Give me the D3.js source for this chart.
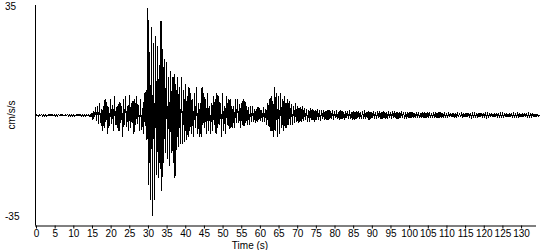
<!DOCTYPE html>
<html>
<head>
<meta charset="utf-8">
<script src="https://cdn.jsdelivr.net/npm/d3@7"></script>
<style>
  body { margin: 0; background: #fff; }
  text { font-family: 'Liberation Sans', Arial, sans-serif; font-size: 10px; fill: #000; }
</style>
</head>
<body>
<div id="chart"></div>
<script>
// sample spacing of the trace (s)
const SAMPLE_DT = 0.25

// acceleration trace, cm/s/s, one row per 5 s
const accel = [
  0.2,-0.2,0.1,-0.3,0.2,-0.1,0.3,-0.2,0.1,-0.2,0.2,-0.3,0.1,-0.1,0.2,-0.2,0.3,-0.1,0.2,-0.2,
  0.1,-0.2,0.2,-0.3,0.2,-0.1,0.2,-0.2,0.3,-0.2,0.1,-0.2,0.2,-0.1,0.3,-0.3,0.2,-0.2,0.1,-0.2,
  0.2,-0.3,0.1,-0.2,0.2,-0.2,0.3,-0.1,0.2,-0.3,0.2,-0.2,0.1,-0.2,0.3,-0.2,0.2,-0.3,0.2,-0.4,
  0.8,-1.5,1.2,-0.6,2.5,-1.8,3,-2.8,4,-2.5,2,-5,3,-4,5,-2,4.2,-6,2.5,-3.5,
  5,-2.8,3.4,-5,6,-3,2.6,-4.2,3.5,-5,4.2,-2.4,2.8,-7,5,-3.2,6,-3.6,3,-5,
  6.5,-4,3.8,-2.6,4.4,-6,5,-3,6,-2.8,3.2,-5,5,-4.6,2.4,-6,7,-3.5,8,-8,
  34,-22,20,-27,28,-32,23,-27,25,-19,22,-20,16,-17,30,-24,21,-15,18,-12,
  17,-14,12,-16,14,-12,12,-15,13,-20,10,-11,12,-10,9,-9,12,-9,8,-8.5,
  10,-8,6,-7,9,-5,7,-6,5,-7,7,-4,9,-6,4,-7,4,-7,9,-3,
  7,-4,5,-6,7,-5,3,-6,4,-5,6,-3,5,-6,7,-4,6,-3,4,-7,
  7,-5,3,-6,6,-3,5,-4.5,5,-4,3,-4,3,-4,5,-2.5,5,-2.5,3.5,-4,
  4,-3,5,-3.5,4.5,-2.5,3,-3,2.5,-3,3,-2,3,-2,2,-2.5,2,-2.2,2.6,-1.6,
  2.2,-1.8,1.8,-2.2,2.6,-2,2,-3,4,-3.5,5,-5,6,-5,4.5,-7,9,-5,7,-7,
  6,-6,7,-4,5,-5,6,-4,4,-4,5,-3,4.5,-3,3.5,-3,3,-2.6,4,-2,
  3,-2.5,2.4,-2,2.5,-2,3,-1.8,2.2,-1.6,2,-2.2,1.8,-2,2.4,-1.5,2,-1.6,1.6,-2,
  1.8,-1.4,2,-1.6,1.5,-1.8,1.6,-1.3,1.7,-1.4,1.4,-1.6,1.5,-1.6,1.8,-1.2,1.4,-1.3,1.5,-1.5,
  1.2,-1.0,1.5,-1.3,1.0,-1.4,1.8,-1.1,1.3,-1.2,1.0,-1.6,1.4,-1.0,1.2,-1.3,1.6,-1.2,1.1,-1.4,
  1.3,-1.5,1.0,-1.2,1.2,-1.0,1.4,-1.3,1.0,-1.2,1.3,-1.1,1.5,-1.3,1.1,-1.0,1.2,-1.4,1.0,-1.2,
  1.1,-1.0,1.3,-1.2,1.0,-1.3,1.2,-0.9,1.4,-1.1,1.0,-1.2,1.2,-1.0,0.9,-1.3,1.1,-1.2,1.3,-1.0,
  1.0,-1.1,1.2,-0.9,1.3,-1.0,1.0,-1.2,0.9,-1.1,1.1,-1.0,1.2,-0.9,1.0,-1.1,1.0,-1.2,0.9,-1.0,
  0.9,-1.0,1.1,-0.8,1.0,-0.9,0.8,-1.0,1.1,-0.8,0.9,-1.0,0.8,-0.9,1.0,-0.8,0.9,-1.0,0.8,-0.9,
  1.0,-0.8,0.9,-0.9,0.8,-1.0,1.0,-0.8,0.9,-0.9,0.8,-1.0,1.0,-0.7,0.9,-0.9,0.8,-0.9,1.0,-0.8,
  0.6,-0.5,0.5,-0.6,0.7,-0.5,0.5,-0.6,0.6,-0.7,0.5,-0.5,0.6,-0.5,0.7,-0.6,0.5,-0.5,0.6,-0.6,
  0.5,-0.6,0.6,-0.4,0.5,-0.5,0.6,-0.6,0.4,-0.5,0.6,-0.5,0.5,-0.6,0.4,-0.5,0.6,-0.4,0.5,-0.6,
  0.5,-0.4,0.6,-0.5,0.4,-0.5,0.5,-0.4,0.6,-0.5,0.4,-0.5,0.5,-0.4,0.5,-0.6,0.4,-0.5,0.5,-0.4,
  0.5,-0.5,0.4,-0.4,0.5,-0.6,0.4,-0.5,0.5,-0.4,0.4,-0.5,0.6,-0.5,0.4,-0.4,0.5,-0.5,0.4,-0.5,
  0.4,-0.5,0.5,-0.4,0.4,-0.4,0.5,-0.5,0.4,-0.5,0.4,-0.4,0.5,-0.4,0.4,-0.5,0.4,-0.4,0.3,-0.4,
  0
]

const xTicks = [0,5,10,15,20,25,30,35,40,45,50,55,60,65,70,75,80,85,90,95,100,105,110,115,120,125,130]
const yDomain = [-35, 35]
const xDomain = [0, 134]

const width = 550
const height = 250
const margin = { top: 5, right: 14, bottom: 24, left: 36 }

const svg = d3
  .select('#chart')
  .append('svg')
  .attr('width', width)
  .attr('height', height)

const x = d3.scaleLinear().domain(xDomain).range([margin.left, width - margin.right])
const y = d3.scaleLinear().domain(yDomain).range([height - margin.bottom - 0.5, margin.top])

const points = accel.map((v, i) => [i * SAMPLE_DT, v])

svg
  .append('path')
  .datum(points)
  .attr('fill', 'none')
  .attr('stroke', '#000')
  .attr('stroke-width', 1)
  .attr('shape-rendering', 'crispEdges')
  .attr('d', d3.line().x(d => x(d[0])).y(d => y(d[1])))

// x axis
const xAxis = g =>
  g
    .attr('transform', `translate(0,${y(yDomain[0])})`)
    .call(d3.axisBottom(x).tickValues(xTicks).tickSize(3).tickPadding(1).tickSizeOuter(0))
    .call(g => g.select('.domain').attr('d', `M${margin.left - 1},0.5H${x(xDomain[1])}`))
    .call(g => g.selectAll('text').style('font-size', '10px').style('font-family', "'Liberation Sans', Arial, sans-serif"))

svg.append('g').call(xAxis)

// y axis line, no ticks
svg
  .append('line')
  .attr('x1', margin.left - 0.5)
  .attr('x2', margin.left - 0.5)
  .attr('y1', y(yDomain[1]))
  .attr('y2', y(yDomain[0]))
  .attr('stroke', '#000')

svg.append('text').attr('x', 5).attr('y', 10).text(yDomain[1])
svg.append('text').attr('x', 5).attr('y', 220).text(yDomain[0])

svg
  .append('text')
  .attr('x', 250)
  .attr('y', 248.5)
  .attr('text-anchor', 'middle')
  .text('Time (s)')

svg
  .append('text')
  .attr('transform', 'translate(15,115) rotate(-90)')
  .attr('text-anchor', 'middle')
  .text('cm/s/s')
</script>
</body>
</html>
